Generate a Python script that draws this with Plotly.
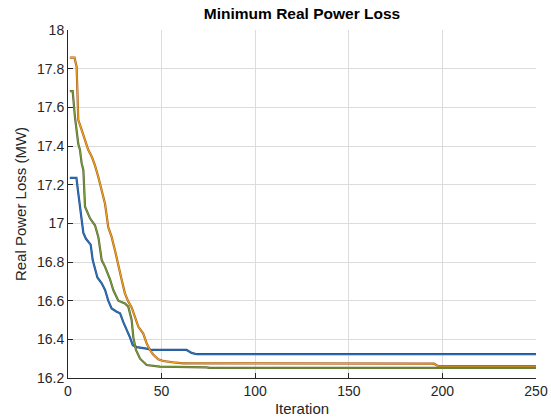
import plotly.graph_objects as go

# Series 1 (blue)
blue_x = [1, 4.5, 5.5, 7.3, 8.2, 9.6, 12.1, 13.2, 14.4, 15.7, 18.0, 19.8, 21.5, 23.3, 26.0, 27.8,
          29.5, 31.4, 33.1, 34.6, 36.7, 42, 44.7, 63.4, 66, 68.8, 250]
blue_y = [17.235, 17.235, 17.155, 17.03, 16.95, 16.92, 16.89, 16.81, 16.76, 16.72, 16.69, 16.655,
          16.60, 16.56, 16.543, 16.535, 16.49, 16.45, 16.41, 16.37, 16.36, 16.352, 16.345, 16.345,
          16.33, 16.323, 16.323]

# Series 2 (orange)
orange_x = [1, 3.5, 4.6, 5.5, 7.3, 9.1, 10.8, 12.7, 14.4, 16.2, 17.5, 18.5, 19.8, 21.5, 23.3, 25.1,
            26.9, 28.7, 30.4, 32.2, 34.0, 35.8, 37.6, 40.2, 42.0, 43.8, 45.6, 48.2, 50.9, 56.3,
            61.6, 195.5, 197.8, 250]
orange_y = [17.857, 17.857, 17.81, 17.534, 17.483, 17.43, 17.38, 17.345, 17.30, 17.24, 17.19,
            17.138, 17.10, 16.98, 16.93, 16.86, 16.776, 16.707, 16.638, 16.595, 16.565, 16.51,
            16.465, 16.43, 16.38, 16.345, 16.32, 16.297, 16.288, 16.281, 16.276, 16.274, 16.261,
            16.261]

# Series 3 (green)
green_x = [1, 2.5, 3.7, 5.5, 6.4, 7.3, 8.2, 8.5, 9.1, 11.75, 14.4, 16.2, 18.0, 19.8, 22.4, 24.2,
           26.9, 30.4, 32.2, 34.0, 34.9, 36.3, 38.5, 42, 49, 74, 75.8, 250]
green_y = [17.684, 17.684, 17.55, 17.41, 17.38, 17.31, 17.276, 17.207, 17.086, 17.026, 16.99,
           16.93, 16.81, 16.775, 16.712, 16.655, 16.60, 16.586, 16.569, 16.50, 16.41, 16.345,
           16.30, 16.267, 16.259, 16.255, 16.252, 16.252]

x_ticks = [0, 50, 100, 150, 200, 250]
y_ticks = [16.2, 16.4, 16.6, 16.8, 17, 17.2, 17.4, 17.6, 17.8, 18]
y_tick_text = ["16.2", "16.4", "16.6", "16.8", "17", "17.2", "17.4", "17.6", "17.8", "18"]

fig = go.Figure()

def add_line(xs, ys, edge, core):
    fig.add_trace(go.Scatter(x=xs, y=ys, mode="lines",
                             line=dict(color=edge, width=2.2), hoverinfo="skip"))
    fig.add_trace(go.Scatter(x=xs, y=ys, mode="lines",
                             line=dict(color=core, width=1.1)))

add_line(blue_x, blue_y, "#24528a", "#2f72bd")
add_line(orange_x, orange_y, "#a5591c", "#f0a91e")
add_line(green_x, green_y, "#5a6438", "#7a9e36")

FAM = "Liberation Sans, Arial, sans-serif"
axis_font = dict(family=FAM, size=14, color="#262626")

fig.update_layout(
    width=551, height=420,
    paper_bgcolor="white", plot_bgcolor="white",
    margin=dict(l=68, r=15, t=30, b=42),
    showlegend=False,
    title=dict(text="<b>Minimum Real Power Loss</b>", x=0.5, xanchor="center",
               xref="paper", y=0.967, yanchor="middle",
               font=dict(family=FAM, size=15.5, color="black")),
    font=axis_font,
)
fig.update_xaxes(
    range=[0, 250], tickvals=x_ticks, showgrid=True, gridcolor="#dcdcdc", gridwidth=1,
    showline=True, linecolor="#262626", linewidth=1, ticks="inside", ticklen=5,
    tickcolor="#262626", zeroline=False, tickfont=axis_font, automargin=False,
    title=dict(text="Iteration", standoff=5,
               font=dict(family=FAM, size=15, color="#262626")),
)
fig.update_yaxes(
    range=[16.2, 18], tickvals=y_ticks, ticktext=y_tick_text, showgrid=True,
    gridcolor="#dcdcdc", gridwidth=1, showline=True, linecolor="#262626", linewidth=1,
    ticks="inside", ticklen=5, tickcolor="#262626", zeroline=False, tickfont=axis_font,
    automargin=False,
    title=dict(text="Real Power Loss (MW)", standoff=6,
               font=dict(family=FAM, size=15, color="#262626")),
)

fig.write_html(
    "out.html",
    config={"displayModeBar": False},
    post_script="document.body.style.margin='0';document.body.style.overflow='hidden';",
)
